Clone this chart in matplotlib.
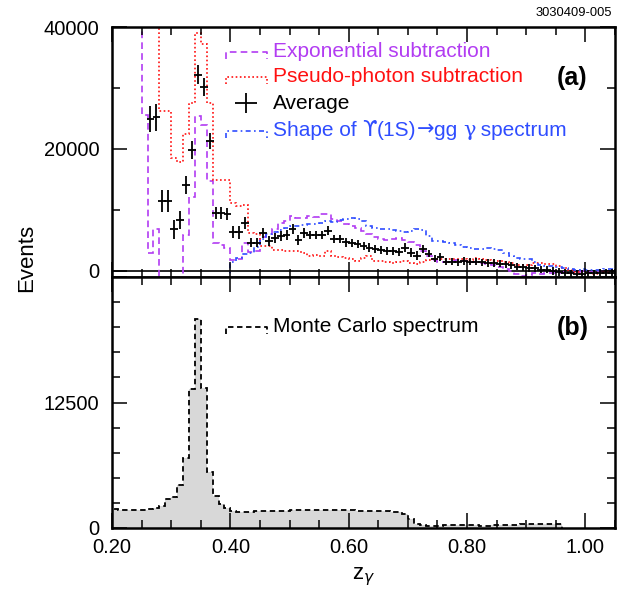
import numpy as np
import matplotlib.pyplot as plt
from matplotlib.ticker import MultipleLocator, FixedLocator, FormatStrFormatter
from matplotlib.offsetbox import TextArea, HPacker, AnchoredOffsetbox

plt.rcParams['font.family'] = ['Liberation Sans', 'DejaVu Sans']

# %% data: spectra in z_gamma, bins of 0.01
bin_w = 0.01

# Exponential subtraction, first bin starts at z = 0.24
exp_start = 0.24
exp_sub = [60000, 25500, 3000, 6900, -3400, -5200, -5000, -1400, 5900, 12200,
           25400, 23900, 14800, 4600, 4300, 3700, 1800, 2000, 4600, 3100,
           3300, 5500, 6000, 6900, 7800, 8200, 9000, 8700, 8700, 9000,
           8900, 9300, 9400, 8500, 8200, 7700, 7400, 7000, 6600, 6000,
           5600, 5300, 5100, 5200, 5400, 5000, 4800, 4200, 3300, 2400,
           1800, 1400, 1500, 1700, 1800, 1600, 1500, 1400, 1300, 1200,
           1000, 700, 300, 0, -500, -800, -600, -400, -500, -300,
           -400, -300, -200, -300, -200, 0, -100, -100, 0, -100]

# Pseudo-photon subtraction, first bin starts at z = 0.27
pseudo_start = 0.27
pseudo_sub = [60000, 26200, 26200, 18500, 17900, 22500, 27500, 39000, 37200, 27500,
              14900, 14900, 14900, 11100, 10600, 10800, 6200, 6000, 4100, 4100,
              3500, 3500, 3300, 3300, 3300, 3000, 2500, 2600, 2500, 3200,
              2500, 2300, 2100, 2000, 1600, 2100, 2400, 1700, 1600, 1500,
              1300, 1400, 1600, 1300, 1100, 1500, 1800, 2000, 2000, 1900,
              1900, 2000, 1900, 1800, 2100, 2000, 1800, 1700, 1600, 1500,
              1300, 1000, 900, 1000, 1300, 1300, 1200, 1200, 800, 400,
              100, -200, -400, -300, -500, -300, -200, -200]

# Average, first bin starts at z = 0.26
avg_start = 0.26
avg_vals = [24900, 25200, 11400, 11400, 6800, 8300, 14100, 19800, 32200, 30200,
            21300, 9500, 9500, 9300, 6400, 6300, 7800, 4650, 4650, 6200,
            4900, 5450, 5700, 5900, 6900, 5100, 6200, 5900, 5900, 5900,
            6600, 5200, 5200, 4700, 4600, 4400, 4100, 3800, 3600, 3400,
            3300, 3300, 3100, 3800, 3000, 2500, 3600, 2800, 2000, 2300,
            1500, 1500, 1400, 1600, 1500, 1500, 1400, 1300, 1300, 1200,
            1100, 900, 700, 600, 500, 400, 200, 200, 0, -200,
            -300, -400, -500, -500, -400, -400, -300, -300, -300]
avg_errs = ([2200] * 2 + [1800] * 2 + [1500] * 4 + [1600, 1500, 1300]
            + [1000] * 6 + [800] * 10 + [700] * 20 + [600] * 32)

# Shape of Upsilon(1S) -> gg gamma spectrum, first bin starts at z = 0.39
shape_start = 0.39
shape_vals = [-3000, 1500, 2100, 2800, 3000, 4000, 5200, 6000, 6400, 6700,
              7000, 7300, 7400, 7600, 7700, 7700, 7900, 8200, 8000, 8300,
              8500, 8600, 8500, 8200, 7300, 7000, 6900, 6800, 6700, 6600,
              6400, 6600, 6900, 6700, 5800, 4900, 4900, 4800, 4600, 4300,
              4000, 3700, 3600, 3600, 3700, 3600, 3400, 3000, 2400, 2100,
              2000, 1900, 1400, 900, 800, 800, 600, 400, 300, 200,
              300, 200, 100, 200, 300, 300]

# Monte Carlo spectrum, first bin starts at z = 0.19
mc_start = 0.19
mc_vals = [1870, 1870, 1800, 1750, 1750, 1770, 1800, 1850, 1950, 2200,
           2900, 3050, 4250, 7000, 13800, 20800, 13900, 5600, 3150, 2400,
           1970, 1740, 1570, 1600, 1620, 1650, 1650, 1680, 1700, 1700,
           1720, 1750, 1750, 1770, 1780, 1800, 1800, 1800, 1780, 1760,
           1750, 1750, 1730, 1720, 1700, 1700, 1680, 1650, 1600, 1550,
           1350, 900, 400, 250, 200, 200, 220, 250, 250, 280,
           300, 280, 250, 230, 200, 250, 280, 300, 300, 320,
           350, 380, 400, 420, 400, 380, 380]


def edges_for(start, vals):
    return start + bin_w * np.arange(len(vals) + 1)


purple = '#b23cf2'
red = '#ff1010'
blue = '#2f4dff'

# %% figure
fig = plt.figure(figsize=(6.23, 5.91), dpi=100)
ax_top = fig.add_axes([0.1798, 0.5313, 0.8074, 0.4230])
ax_bot = fig.add_axes([0.1798, 0.1066, 0.8074, 0.4247])

# top panel
ax_top.axhline(0, color='black', lw=1.2, zorder=1)
ax_top.stairs(exp_sub, edges_for(exp_start, exp_sub), baseline=None,
              color=purple, lw=1.2, ls=(0, (4, 2.5)))
ax_top.stairs(pseudo_sub, edges_for(pseudo_start, pseudo_sub), baseline=None,
              color=red, lw=1.2, ls=(0, (1, 1.5)))
ax_top.stairs(shape_vals, edges_for(shape_start, shape_vals), baseline=None,
              color=blue, lw=1.2, ls=(0, (3, 2, 1, 2)))
avg_x = edges_for(avg_start, avg_vals)[:-1] + bin_w / 2
ax_top.errorbar(avg_x, avg_vals, yerr=avg_errs, xerr=0.0065, fmt='none',
                ecolor='black', elinewidth=1.3, capsize=0, zorder=5)

ax_top.set_xlim(0.2, 1.05)
ax_top.set_ylim(-1000, 40000)
ax_top.yaxis.set_major_locator(FixedLocator([0, 20000, 40000]))
ax_top.yaxis.set_minor_locator(FixedLocator([10000, 30000]))

# legend of the top panel, drawn by hand
tr = ax_top.transAxes
x0, x1, tx = 0.227, 0.308, 0.320
legend_rows = [(0.900, purple, (0, (4, 2.5))),
               (0.800, red, (0, (1, 1.5))),
               (0.584, blue, (0, (3, 2, 1, 2)))]
for y, col, ls in legend_rows:
    ax_top.plot([x0, x0, x1, x1], [y - 0.026, y, y, y - 0.026], transform=tr,
                color=col, lw=1.2, ls=ls, clip_on=False)
ax_top.text(tx, 0.904, 'Exponential subtraction', transform=tr, color=purple,
            fontsize=15, va='center', ha='left')
ax_top.text(tx, 0.804, 'Pseudo-photon subtraction', transform=tr, color=red,
            fontsize=15, va='center', ha='left')

# "Shape of Y(1S) -> gg gamma spectrum" with the hooked upsilon
parts = [('Shape of ', None), ('\u03d2', 'DejaVu Sans'), ('(1S)', None),
         ('\u2192', 'DejaVu Sans'), ('gg ', None), ('\u03b3', 'DejaVu Serif'),
         (' spectrum', None)]
areas = []
for s, fam in parts:
    props = dict(color=blue, size=15)
    if fam:
        props['family'] = fam
    areas.append(TextArea(s, textprops=props))
shape_box = HPacker(children=areas, align='baseline', pad=0, sep=0)
ax_top.add_artist(AnchoredOffsetbox(loc='center left', child=shape_box, pad=0,
                                    borderpad=0, frameon=False,
                                    bbox_to_anchor=(tx, 0.590),
                                    bbox_transform=tr))

ax_top.errorbar([0.267], [0.696], xerr=0.022, yerr=0.04, transform=tr,
                fmt='none', ecolor='black', elinewidth=1.3, capsize=0)
ax_top.text(tx, 0.696, 'Average', transform=tr, fontsize=15, va='center', ha='left')
ax_top.text(0.915, 0.795, '(a)', transform=tr, fontsize=18, fontweight='bold',
            ha='center', va='center')

# bottom panel
mc_edges = edges_for(mc_start, mc_vals)
ax_bot.stairs(mc_vals, mc_edges, fill=True, color='#d8d8d8', lw=0)
ax_bot.stairs(mc_vals, mc_edges, baseline=0, color='black', lw=1.3,
              ls=(0, (3, 2)))
ax_bot.set_xlim(0.2, 1.05)
ax_bot.set_ylim(0, 25000)
ax_bot.yaxis.set_major_locator(FixedLocator([0, 12500, 25000]))
ax_bot.set_yticklabels(['0', '12500', ''])
ax_bot.yaxis.set_minor_locator(MultipleLocator(2500))

trb = ax_bot.transAxes
ax_bot.plot([x0, x0, x1, x1], [0.774, 0.80, 0.80, 0.774], transform=trb,
            color='black', lw=1.3, ls=(0, (3, 2)), clip_on=False)
ax_bot.text(tx, 0.804, 'Monte Carlo spectrum', transform=trb, fontsize=15,
            va='center', ha='left')
ax_bot.text(0.915, 0.795, '(b)', transform=trb, fontsize=18, fontweight='bold',
            ha='center', va='center')

for ax in (ax_top, ax_bot):
    ax.xaxis.set_major_locator(MultipleLocator(0.2))
    ax.xaxis.set_minor_locator(MultipleLocator(0.05))
    ax.tick_params(which='both', direction='in', top=True, right=True,
                   labelsize=14.5, pad=7)
    ax.tick_params(axis='y', which='both', pad=9)
    ax.tick_params(which='major', length=11, width=1.1)
    ax.tick_params(which='minor', length=6, width=1.1)
    for s in ax.spines.values():
        s.set_linewidth(1.8)

ax_top.tick_params(labelbottom=False)
ax_bot.xaxis.set_major_formatter(FormatStrFormatter('%.2f'))
ax_bot.set_xlabel('z$_\\gamma$', fontsize=16, labelpad=6)

fig.text(0.042, 1 - 258 / 591, 'Events', rotation=90, fontsize=16,
         ha='center', va='center')
fig.text(0.983, 1 - 13 / 591, '3030409-005', fontsize=9.3, ha='right',
         va='center')

fig.savefig('out.png', dpi=100)
